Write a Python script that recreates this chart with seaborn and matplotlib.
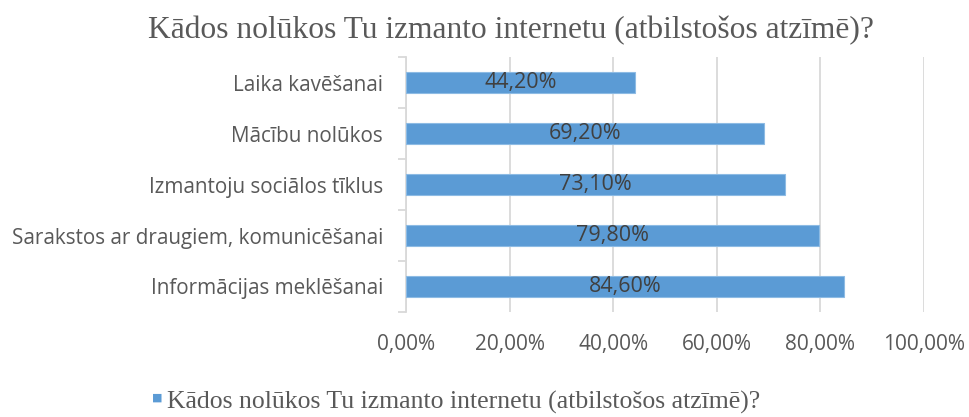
import matplotlib
matplotlib.use('Agg')
import matplotlib.pyplot as plt
import seaborn as sns
import pandas as pd

# data
categories = ['Laika kavēšanai', 'Mācību nolūkos', 'Izmantoju sociālos tīklus',
              'Sarakstos ar draugiem, komunicēšanai', 'Informācijas meklēšanai']
values = [44.2, 69.2, 73.1, 79.8, 84.6]
xticks = [0, 20, 40, 60, 80, 100]
title = 'Kādos nolūkos Tu izmanto internetu (atbilstošos atzīmē)?'

df = pd.DataFrame({'cat': categories, 'val': values})

sns.set_style('white')
plt.rcParams['font.family'] = ['Open Sans', 'DejaVu Sans']

fig = plt.figure(figsize=(9.69, 4.17), dpi=100)
ax = fig.add_axes([0.419, 0.2518, 0.5346, 0.6115])

sns.barplot(data=df, x='val', y='cat', orient='h', color='#5B9BD5',
            saturation=1, width=0.41, edgecolor='#8DBBE4', linewidth=0.8,
            ax=ax, zorder=3)

# data labels in the middle of each bar
for i, v in enumerate(values):
    ax.text(v / 2, i, f'{v:.2f}%'.replace('.', ','), ha='center', va='center',
            fontsize=15.5, color='#404040', zorder=4)

ax.set_xlim(0, 100)
ax.set_ylim(len(categories) - 0.5, -0.5)
ax.set_xticks(xticks)
ax.set_xticklabels([f'{t:.2f}%'.replace('.', ',') for t in xticks],
                   fontsize=15, color='#595959')
ax.set_yticks(range(len(categories)))
ax.set_yticklabels(categories, fontsize=14.9, color='#595959')
ax.set_yticks([i - 0.5 for i in range(len(categories) + 1)], minor=True)
ax.tick_params(axis='y', which='major', left=False, length=0, pad=16.5)
ax.tick_params(axis='y', which='minor', left=True, length=5.8, width=1.3,
               color='#D9D9D9')
ax.tick_params(axis='x', length=0, pad=15.5)
ax.set_xlabel('')
ax.set_ylabel('')

ax.grid(axis='x', color='#D9D9D9', linewidth=1.3, zorder=0)
for s in ['top', 'right', 'bottom']:
    ax.spines[s].set_visible(False)
ax.spines['left'].set_color('#D9D9D9')
ax.spines['left'].set_linewidth(1.3)

fig.text(0.527, 0.909, title, ha='center', va='baseline', fontsize=22.7,
         family=['Liberation Serif'], color='#595959')

# legend
fig.text(0.157, 0.045, '\u25A0', ha='left', va='center', fontsize=8,
         color='#5B9BD5')
fig.text(0.172, 0.02, title, ha='left', va='baseline', fontsize=18.5,
         family=['Liberation Serif'], color='#595959')

fig.savefig('out.png', dpi=100)
